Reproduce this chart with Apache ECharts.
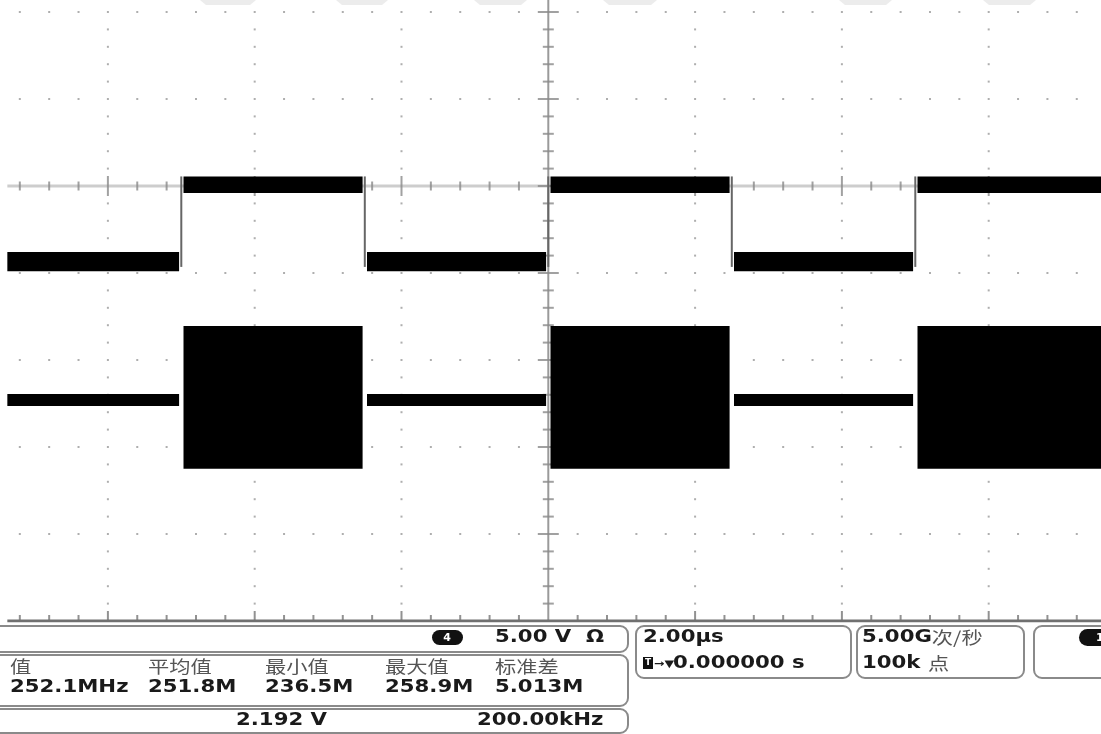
<!DOCTYPE html>
<html>
<head>
<meta charset="utf-8">
<script src="https://cdn.jsdelivr.net/npm/echarts@6/dist/echarts.min.js"></script>
<style>
html,body{margin:0;padding:0;background:#fff}
#chart{width:1101px;height:734px}
</style>
</head>
<body>
<div id="chart"></div>
<script>
// x in µs (2.00µs/div), y in divisions (0 = ticked horizontal line)
var traceStart = -7.37, traceEnd = 7.6;
var ch1Edges = [-5.0, -2.5, 0.0, 2.5, 5.0];   // rising, falling, rising ...
var ch1Low = [-0.98, -0.76];
var ch1High = [-0.08, 0.11];
var ch2Idle = [-2.53, -2.39];
var ch2Burst = [-3.25, -1.61];

var statNames = ['值', '平均值', '最小值', '最大值', '标准差'];
var statValues = ['252.1MHz', '251.8M', '236.5M', '258.9M', '5.013M'];
var statX = [10, 148, 265, 385, 495];

// visible window of the screen (the capture is cropped on the left and top)
var xMin = -7.47, xMax = 7.53;
var yMin = -5, yMax = 2.138;

// graticule: major every 2µs / 1 div, minor every 0.4µs / 0.2 div
var majorT = [-6, -4, -2, 2, 4, 6];
var rowV = [2, 1, 0, -1, -2, -3, -4];

function r(v) { return Math.round(v * 100) / 100; }

var dots = [], hTicks = [], vTicks = [], vTicksMajor = [], hTicksMajor = [], baseTicks = [], baseTicksMajor = [];
for (var t = -7.2; t < 7.7; t += 0.4) {
    var tt = r(t);
    if (Math.abs(tt) < 0.01) continue;
    var isMajor = majorT.indexOf(tt) >= 0;
    rowV.forEach(function (v) { if (v !== 0) dots.push([tt, v]); });
    if (isMajor) { hTicksMajor.push([tt, 0]); baseTicksMajor.push([tt, -5]); }
    else { hTicks.push([tt, 0]); baseTicks.push([tt, -5]); }
}
for (var v = -4.8; v < 2.15; v += 0.2) {
    var vv = r(v);
    var onRow = Math.abs(vv - Math.round(vv)) < 0.01;
    if (!onRow) majorT.forEach(function (tt) { dots.push([tt, vv]); });
    if (onRow) vTicksMajor.push([0, vv]); else vTicks.push([0, vv]);
}

// build band rects [t0, t1, lo, hi]
var bounds = [traceStart].concat(ch1Edges, [traceEnd]);
var ch1Bands = [], ch2Bands = [], ch1EdgeLines = [];
for (var i = 0; i < bounds.length - 1; i++) {
    var a = i === 0 ? bounds[i] : bounds[i] + 0.03;
    var b = i === bounds.length - 2 ? bounds[i + 1] : bounds[i + 1] - 0.03;
    var lvl = i % 2 === 0 ? ch1Low : ch1High;
    var lvl2 = i % 2 === 0 ? ch2Idle : ch2Burst;
    ch1Bands.push([a, b, lvl[0], lvl[1]]);
    ch2Bands.push([a, b, lvl2[0], lvl2[1]]);
}
ch1Edges.forEach(function (e) { ch1EdgeLines.push([e, ch1Low[0] + 0.05, ch1High[1]]); });

function bandRender(params, api) {
    var p0 = api.coord([api.value(0), api.value(3)]);
    var p1 = api.coord([api.value(1), api.value(2)]);
    return { type: 'rect', shape: { x: p0[0], y: p0[1], width: p1[0] - p0[0], height: p1[1] - p0[1] }, style: { fill: '#000' } };
}
function edgeRender(params, api) {
    var p0 = api.coord([api.value(0), api.value(1)]);
    var p1 = api.coord([api.value(0), api.value(2)]);
    return { type: 'line', shape: { x1: p0[0], y1: p0[1], x2: p1[0], y2: p1[1] }, style: { stroke: '#666', lineWidth: 2 } };
}

function tickSeries(data, size, offset, color) {
    return {
        type: 'scatter', data: data, symbol: 'rect', symbolSize: size, symbolOffset: offset || [0, 0],
        itemStyle: { color: color || '#8a8a8a' }, silent: true, animation: false, z: 1
    };
}

function label(text, x, y, style) {
    return {
        type: 'text', x: x, y: y, scaleX: 1.25, z: 10,
        style: Object.assign({ text: text, x: 0, y: 0, fill: '#1a1a1a', font: 'bold 17px "DejaVu Sans"', verticalAlign: 'middle' }, style || {})
    };
}
var cjk = { fill: '#555', font: '17px "Noto Sans CJK SC"' };
function box(x, y, w, h) {
    return { type: 'rect', z: 9, shape: { x: x, y: y, width: w, height: h, r: 8 }, style: { fill: '#fff', stroke: '#8a8a8a', lineWidth: 2 } };
}
function cap(x0, x1) {
    return { type: 'polygon', z: 0, shape: { points: [[x0, 0], [x1, 0], [x1 - 6, 5], [x0 + 6, 5]] }, style: { fill: '#ececec' } };
}

var graphics = [
    cap(200, 256), cap(336, 388), cap(474, 527), cap(603, 657), cap(839, 892), cap(983, 1036),
    box(-20, 626, 648, 26),
    box(-20, 655, 648, 51),
    box(-20, 709, 648, 24),
    box(636, 626, 215, 52),
    box(857, 626, 167, 52),
    box(1034, 626, 100, 52),
    { type: 'rect', z: 11, shape: { x: 432, y: 630, width: 31, height: 15, r: 7.5 }, style: { fill: '#111' } },
    { type: 'text', z: 12, x: 447, y: 638, style: { text: '4', fill: '#fff', font: 'bold 11px "DejaVu Sans"', align: 'center', verticalAlign: 'middle' } },
    { type: 'rect', z: 11, shape: { x: 1079, y: 629, width: 40, height: 17, r: 8.5 }, style: { fill: '#111' } },
    { type: 'text', z: 12, x: 1096, y: 638, style: { text: '1', fill: '#fff', font: 'bold 11px "DejaVu Sans"', verticalAlign: 'middle' } },
    label('5.00 V  Ω', 495, 638),
    label('2.192 V', 236, 721),
    label('200.00kHz', 477, 721),
    label('2.00µs', 643, 638),
    { type: 'rect', z: 11, shape: { x: 643, y: 657, width: 10, height: 12 }, style: { fill: '#111' } },
    { type: 'text', z: 12, x: 645, y: 663, style: { text: 'T', fill: '#fff', font: 'bold 9px "DejaVu Sans"', verticalAlign: 'middle' } },
    label('→▼', 654, 664, { font: 'bold 10px "DejaVu Sans"' }),
    label('0.000000 s', 673, 664),
    label('{b|5.00G}{c|次/秒}', 862, 638, { rich: { b: { font: 'bold 17px "DejaVu Sans"', fill: '#1a1a1a' }, c: { font: '17px "Noto Sans CJK SC"', fill: '#555' } } }),
    label('{b|100k }{c|点}', 862, 664, { rich: { b: { font: 'bold 17px "DejaVu Sans"', fill: '#1a1a1a' }, c: { font: '17px "Noto Sans CJK SC"', fill: '#555' } } })
];
statNames.forEach(function (n, k) { graphics.push(label(n, statX[k], 667, cjk)); });
statValues.forEach(function (s, k) { graphics.push(label(s, statX[k], 688)); });

var chart = echarts.init(document.getElementById('chart'), null, { renderer: 'canvas' });
chart.setOption({
    animation: false,
    backgroundColor: '#fff',
    grid: { left: 0, right: 0, top: 0, bottom: 113, containLabel: false },
    xAxis: { type: 'value', min: xMin, max: xMax, show: false },
    yAxis: { type: 'value', min: yMin, max: yMax, show: false },
    graphic: graphics,
    series: [
        { type: 'line', data: [[traceStart, 0], [traceEnd, 0]], symbol: 'none', lineStyle: { color: '#cdcdcd', width: 3 }, z: 0, silent: true },
        { type: 'line', data: [[0, -5], [0, yMax]], symbol: 'none', lineStyle: { color: '#9a9a9a', width: 2 }, z: 0, silent: true },
        { type: 'line', data: [[traceStart, -5], [traceEnd, -5]], symbol: 'none', lineStyle: { color: '#707070', width: 3 }, z: 2, silent: true },
        tickSeries(dots, [2, 2], null, '#9a9a9a'),
        tickSeries(hTicks, [2, 9]),
        tickSeries(hTicksMajor, [2, 20]),
        tickSeries(vTicks, [11, 2]),
        tickSeries(vTicksMajor, [21, 2]),
        tickSeries(baseTicks, [2, 6], [0, -3], '#777'),
        tickSeries(baseTicksMajor, [2, 10], [0, -5], '#777'),
        { type: 'custom', data: ch1EdgeLines, renderItem: edgeRender, z: 3, silent: true },
        { type: 'custom', data: ch1Bands, renderItem: bandRender, z: 4, silent: true },
        { type: 'custom', data: ch2Bands, renderItem: bandRender, z: 4, silent: true }
    ]
});
</script>
</body>
</html>
